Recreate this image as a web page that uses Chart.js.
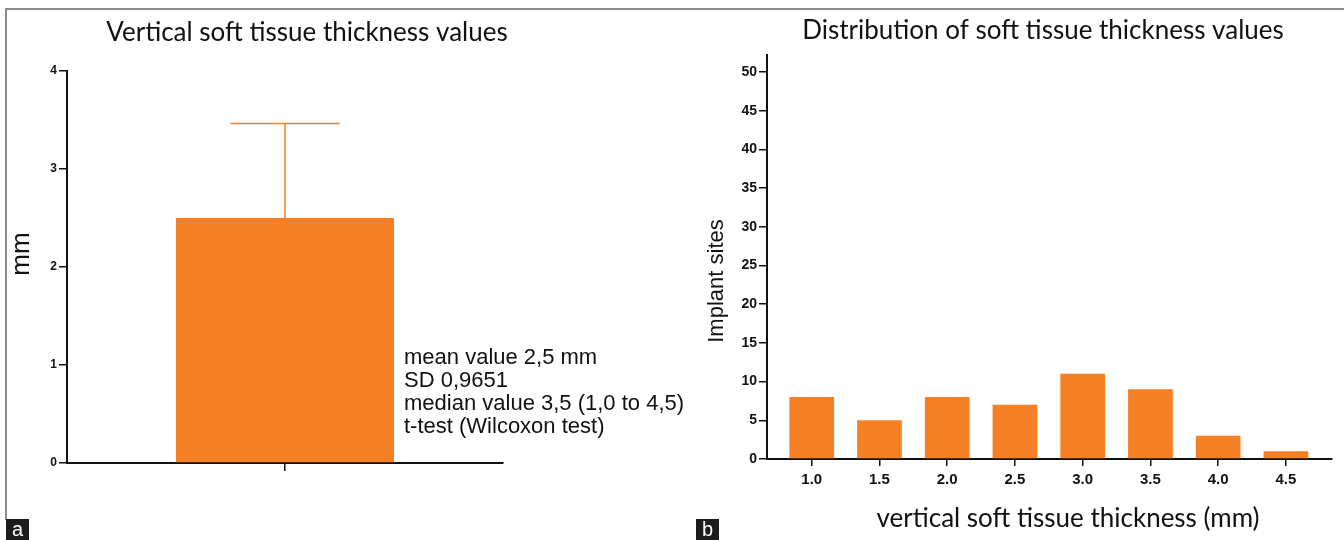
<!DOCTYPE html>
<html>
<head>
<meta charset="utf-8">
<script src="https://cdn.jsdelivr.net/npm/chart.js@4.4.1/dist/chart.umd.min.js"></script>
<style>
  body { margin: 0; background: #fff; }
  #wrap { position: relative; width: 1344px; height: 540px; overflow: hidden; background: #fff; }
  #frame { position: absolute; left: 5px; top: 8px; width: 1339px; height: 510px; border-top: 2px solid #8c8c8c; border-left: 2px solid #8c8c8c; }
  canvas { position: absolute; top: 0; }
  #chartA { left: 0; }
  #chartB { left: 695px; }
  .tag { position: absolute; top: 519px; width: 23px; height: 21px; background: #1c1c1c; color: #fff;
         font: 20px "Liberation Sans", Arial, sans-serif; line-height: 21px; text-align: center; }
</style>
</head>
<body>
<div id="wrap">
  <div id="frame"></div>
  <canvas id="chartA" width="695" height="540"></canvas>
  <canvas id="chartB" width="649" height="540"></canvas>
  <div class="tag" style="left:6px">a</div>
  <div class="tag" style="left:696px">b</div>
</div>
<script>
// DATA - panel a
const groupLabels = ["soft tissue"];
const meanValues = [2.5];
const sdValues = [0.9651];
const yTicksA = [0, 1, 2, 3, 4];
const statsLines = [
  "mean value 2,5 mm",
  "SD 0,9651",
  "median value 3,5 (1,0 to 4,5)",
  "t-test (Wilcoxon test)"
];

// DATA - panel b
const thicknessCats = [1.0, 1.5, 2.0, 2.5, 3.0, 3.5, 4.0, 4.5];
const siteCounts = [8, 5, 8, 7, 11, 9, 3, 1];
const yTicksB = [0, 5, 10, 15, 20, 25, 30, 35, 40, 45, 50];

const ORANGE = "#f58025";
const calibri = "Lato, 'Open Sans', sans-serif";
const arial = "'Liberation Sans', Arial, sans-serif";

Chart.defaults.animation = false;
Chart.defaults.color = "#111";

// draws titles / notes at a fixed spot on the canvas
function textPlugin(id, items) {
  return {
    id: id,
    afterDraw(chart) {
      const ctx = chart.ctx;
      items.forEach(t => {
        ctx.save();
        ctx.font = t.font;
        ctx.fillStyle = t.color || "#111";
        ctx.textAlign = t.align || "center";
        ctx.textBaseline = "middle";
        ctx.translate(t.x, t.y);
        if (t.rotate) ctx.rotate(-Math.PI / 2);
        ctx.fillText(t.text, 0, 0);
        ctx.restore();
      });
    }
  };
}

// SD error bar on top of each bar
const errorBars = {
  id: "errorBars",
  afterDatasetsDraw(chart) {
    const { ctx, scales: { y } } = chart;
    const meta = chart.getDatasetMeta(0);
    ctx.save();
    ctx.strokeStyle = ORANGE;
    ctx.lineWidth = 1.5;
    meta.data.forEach((bar, i) => {
      const top = y.getPixelForValue(meanValues[i] + sdValues[i]);
      const half = bar.width / 4;
      ctx.beginPath();
      ctx.moveTo(bar.x, bar.y);
      ctx.lineTo(bar.x, top);
      ctx.moveTo(bar.x - half, top);
      ctx.lineTo(bar.x + half, top);
      ctx.stroke();
    });
    ctx.restore();
  }
};

// CHART A
new Chart(document.getElementById("chartA"), {
  type: "bar",
  data: {
    labels: groupLabels,
    datasets: [{ data: meanValues, backgroundColor: ORANGE, barPercentage: 0.5, categoryPercentage: 1 }]
  },
  options: {
    responsive: false,
    layout: { padding: { left: 0, top: 71, right: 192, bottom: 0 } },
    plugins: { legend: { display: false }, tooltip: { enabled: false } },
    scales: {
      x: {
        afterFit: s => { s.height = 77; },
        border: { color: "#111", width: 2 },
        grid: { drawOnChartArea: false, offset: false, color: "#111", lineWidth: 1.5, tickLength: 8 },
        ticks: { display: false }
      },
      y: {
        min: 0,
        max: 4,
        afterFit: s => { s.width = 67; },
        afterBuildTicks: s => { s.ticks = yTicksA.map(v => ({ value: v })); },
        border: { color: "#111", width: 2 },
        grid: { drawOnChartArea: false, color: "#111", lineWidth: 1.5, tickLength: 8 },
        ticks: { padding: 2, font: { family: arial, size: 12, weight: "bold" }, color: "#111" }
      }
    }
  },
  plugins: [
    errorBars,
    textPlugin("textA", [
      { text: "Vertical soft tissue thickness values", x: 307, y: 33, font: "26px " + calibri },
      { text: "mm", x: 22, y: 254, rotate: true, font: "26px " + arial }
    ].concat(statsLines.map((line, i) => ({
      text: line, x: 404, y: 358 + i * 23, align: "left", font: "22px " + arial
    }))))
  ]
});

// CHART B
new Chart(document.getElementById("chartB"), {
  type: "bar",
  data: {
    datasets: [{
      data: thicknessCats.map((x, i) => ({ x: x, y: siteCounts[i] })),
      backgroundColor: ORANGE,
      barPercentage: 0.66,
      categoryPercentage: 1
    }]
  },
  options: {
    responsive: false,
    layout: { padding: { left: 0, top: 55, right: 12, bottom: 0 } },
    plugins: { legend: { display: false }, tooltip: { enabled: false } },
    scales: {
      x: {
        type: "linear",
        min: 0.67,
        max: 4.84,
        offset: false,
        afterFit: s => { s.height = 81; },
        afterBuildTicks: s => { s.ticks = thicknessCats.map(v => ({ value: v })); },
        border: { color: "#111", width: 2 },
        grid: { drawOnChartArea: false, offset: false, color: "#111", lineWidth: 1.5, tickLength: 7 },
        ticks: {
          padding: 5,
          font: { family: arial, size: 15, weight: "bold" },
          color: "#111",
          maxRotation: 0,
          callback: v => Number(v).toFixed(1)
        }
      },
      y: {
        min: 0,
        max: 52.2,
        afterFit: s => { s.width = 72; },
        afterBuildTicks: s => { s.ticks = yTicksB.map(v => ({ value: v })); },
        border: { color: "#111", width: 2 },
        grid: { drawOnChartArea: false, color: "#111", lineWidth: 1.5, tickLength: 8 },
        ticks: { padding: 2, font: { family: arial, size: 14, weight: "bold" }, color: "#111" }
      }
    }
  },
  plugins: [
    textPlugin("textB", [
      { text: "Distribution of soft tissue thickness values", x: 348, y: 31, font: "26px " + calibri },
      { text: "Implant sites", x: 22, y: 281, rotate: true, font: "22px " + arial },
      { text: "vertical soft tissue thickness (mm)", x: 373, y: 519, font: "26px " + calibri }
    ])
  ]
});
</script>
</body>
</html>
